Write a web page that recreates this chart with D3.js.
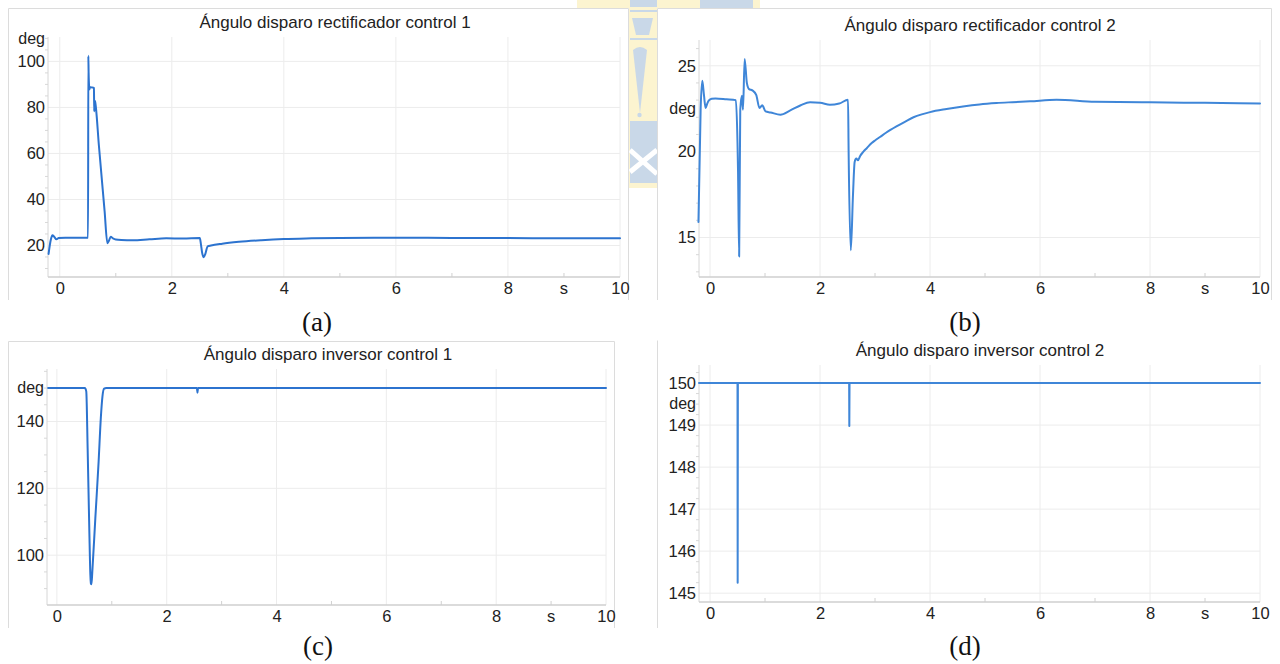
<!DOCTYPE html>
<html><head><meta charset="utf-8">
<script src="https://cdn.jsdelivr.net/npm/d3@7"></script>
<style>body{margin:0;background:#fff;} svg{display:block;}</style>
</head><body>
<svg id="c" width="1280" height="664"></svg>
<script>
// ---------- data ----------
const xTicks = [0, 2, 4, 6, 8, 10];
const xMinor = [1, 3, 5, 7, 9];
const titles = [
  "Ángulo disparo rectificador control 1",
  "Ángulo disparo rectificador control 2",
  "Ángulo disparo inversor control 1",
  "Ángulo disparo inversor control 2"
];
const captions = ["(a)", "(b)", "(c)", "(d)"];
const yTicksA = [20, 40, 60, 80, 100];
const yTicksB = [15, 20, 25];
const yTicksC = [100, 120, 140];
const yTicksD = [145, 146, 147, 148, 149, 150];

const tA = [-0.2,-0.16,-0.13,-0.1,-0.06,-0.02,0.1,0.3,0.505,0.51,0.515,0.53,0.54,0.56,0.6,0.61,0.615,0.62,0.63,0.7,0.8,0.85,0.88,0.91,0.95,1.0,1.1,1.3,1.6,1.9,2.2,2.5,2.52,2.54,2.57,2.6,2.64,2.7,2.9,3.2,3.6,4.0,4.5,5.0,6.0,7.0,8.0,9.0,10.0];
const vA = [16.3,22.5,24.4,23.8,22.7,23.2,23.4,23.4,23.4,102.4,95,87.8,88.9,88.7,88.6,88.4,78.3,83,82.5,63,35,21,22.2,23.8,23.1,22.6,22.4,22.3,22.7,23.1,23.0,23.2,20.5,17,14.9,16.5,19.6,20.0,20.8,21.6,22.3,22.8,23.1,23.3,23.4,23.3,23.2,23.1,23.1];

const tB = [-0.21,-0.17,-0.14,-0.11,-0.08,-0.05,-0.02,0.03,0.1,0.3,0.47,0.5,0.51,0.53,0.55,0.58,0.6,0.63,0.67,0.71,0.77,0.84,0.9,0.95,1.01,1.1,1.28,1.46,1.65,1.82,2.0,2.18,2.35,2.51,2.52,2.56,2.6,2.63,2.66,2.69,2.73,2.79,2.85,2.94,3.0,3.09,3.2,3.39,3.55,3.7,3.85,4.0,4.3,4.6,4.9,5.21,5.5,5.82,6.3,7.0,8.0,9.0,10.0];
const vB = [15.9,22.5,24.13,23.3,22.54,22.8,22.98,23.08,23.1,23.05,23.0,20.5,18.8,13.9,22.44,23.26,22.44,25.4,24.0,23.64,23.57,23.3,22.54,22.7,22.34,22.28,22.15,22.4,22.7,22.87,22.85,22.73,22.8,23.02,20.1,14.26,17.5,19.4,19.6,19.5,19.75,20.0,20.2,20.5,20.65,20.85,21.1,21.47,21.75,22.0,22.17,22.3,22.48,22.63,22.75,22.83,22.88,22.93,23.02,22.9,22.87,22.84,22.8];

const tC = [-0.16,0.51,0.535,0.56,0.59,0.61,0.62,0.63,0.645,0.7,0.76,0.8,0.83,0.86,0.9,2.55,2.56,2.57,10.0];
const vC = [150,150,149,132,108,94,91.5,91.3,95,111,128,141,147.5,149.8,150,150,148.6,150,150];

const tD = [-0.2,0.5,0.503,0.507,2.53,2.533,2.537,10.0];
const vD = [150,150,145.25,150,150,148.98,150,150];

// ---------- layout ----------
const svg = d3.select("#c");
const font = "'Liberation Sans', Arial, sans-serif";

// watermark (logo behind the top middle)
const wm = svg.append("g");
const yel = "#fcf4d0", blu = "#c9d8e8";
wm.append("rect").attr("x",577).attr("y",0).attr("width",183).attr("height",188).attr("fill",yel);
wm.append("rect").attr("x",700).attr("y",0).attr("width",53).attr("height",10).attr("fill",blu);
wm.append("rect").attr("x",630).attr("y",0).attr("width",27).attr("height",7).attr("fill",blu);
wm.append("rect").attr("x",630).attr("y",10).attr("width",27).attr("height",2).attr("fill",blu);
wm.append("path").attr("d","M632,18 L653,18 L649,35 L636,35 Z").attr("fill",blu);
wm.append("rect").attr("x",630).attr("y",38).attr("width",27).attr("height",2).attr("fill",blu);
wm.append("path").attr("d","M633,50 Q640,44 647,50 L640,113 Z").attr("fill",blu);
wm.append("circle").attr("cx",639.5).attr("cy",115).attr("r",2.2).attr("fill",blu);
wm.append("rect").attr("x",630).attr("y",121).attr("width",27).attr("height",62).attr("fill",blu);
wm.append("path").attr("d","M630,150 L657,174 M630,172 L657,150").attr("stroke","#fff").attr("stroke-width",5);

// panel boxes
const boxes = [
  {x0:8, x1:629, y0:8, y1:300, top:true, right:true},
  {x0:657, x1:1272, y0:8, y1:300, top:true, right:true},
  {x0:8, x1:615, y0:341, y1:628, top:true, right:true},
  {x0:657, x1:1280, y0:340, y1:628, top:false, right:false}
];
boxes.forEach(b => {
  svg.append("rect").attr("x",b.x0).attr("y",b.y0).attr("width",b.x1-b.x0).attr("height",b.y1-b.y0).attr("fill","#fff");
  let d = `M${b.x0+0.5},${b.y1} L${b.x0+0.5},${b.y0+0.5}`;
  if (b.top) d += ` L${b.x1-0.5},${b.y0+0.5}`;
  if (b.right) d += ` L${b.x1-0.5},${b.y1}`;
  svg.append("path").attr("d",d).attr("fill","none").attr("stroke","#dcdcdc").attr("stroke-width",1);
});

const panels = [
  {t:tA, v:vA, title:titles[0], yTicks:yTicksA, yMinorStep:5, xDom:[-0.21,10], yDom:[6.3,110.6], left:48, right:620, top:37, bottom:277, degVal:110, titleX:335, titleY:28, color:"#2c73cf", cap:captions[0], capX:317, capY:331, curve:d3.curveMonotoneX},
  {t:tB, v:vB, title:titles[1], yTicks:yTicksB, yMinorStep:1, xDom:[-0.2,10], yDom:[12.7,26.5], left:699, right:1260, top:40, bottom:277, degVal:22.5, titleX:980, titleY:31, color:"#3f86d8", cap:captions[1], capX:965, capY:331, curve:d3.curveMonotoneX},
  {t:tC, v:vC, title:titles[2], yTicks:yTicksC, yMinorStep:5, xDom:[-0.18,10], yDom:[85.1,155.7], left:47, right:606, top:369, bottom:605, degVal:150, titleX:328, titleY:360, color:"#2c73cf", cap:captions[2], capX:318, capY:655, curve:d3.curveMonotoneX},
  {t:tD, v:vD, title:titles[3], yTicks:yTicksD, yMinorStep:0.25, xDom:[-0.2,10], yDom:[144.79,150.43], left:699, right:1260, top:365, bottom:602, degVal:149.5, titleX:980, titleY:356, color:"#3f86d8", cap:captions[3], capX:965, capY:655, curve:d3.curveLinear}
];

panels.forEach(p => {
  const g = svg.append("g");
  const x = d3.scaleLinear().domain(p.xDom).range([p.left, p.right]);
  const y = d3.scaleLinear().domain(p.yDom).range([p.bottom, p.top]);

  // grid
  g.selectAll(".vg").data(xTicks).join("line")
    .attr("x1",d=>x(d)).attr("x2",d=>x(d)).attr("y1",p.top).attr("y2",p.bottom)
    .attr("stroke","#ececec").attr("stroke-width",1);
  g.selectAll(".hg").data(p.yTicks).join("line")
    .attr("x1",p.left).attr("x2",p.right).attr("y1",d=>y(d)).attr("y2",d=>y(d))
    .attr("stroke","#ececec").attr("stroke-width",1);

  // minor ticks
  const ym = d3.range(Math.ceil(p.yDom[0]/p.yMinorStep)*p.yMinorStep, p.yDom[1], p.yMinorStep)
    .filter(v => !p.yTicks.some(t => Math.abs(t-v) < 1e-6));
  g.selectAll(".ym").data(ym).join("line")
    .attr("x1",p.left-3).attr("x2",p.left).attr("y1",d=>y(d)).attr("y2",d=>y(d))
    .attr("stroke","#d8d8d8");
  g.selectAll(".xm").data(xMinor).join("line")
    .attr("x1",d=>x(d)).attr("x2",d=>x(d)).attr("y1",p.bottom-4).attr("y2",p.bottom)
    .attr("stroke","#d0d0d0");

  // axis lines
  g.append("line").attr("x1",p.left).attr("x2",p.left).attr("y1",p.top).attr("y2",p.bottom)
    .attr("stroke","#d6d6d6").attr("stroke-width",1);
  g.append("line").attr("x1",p.left).attr("x2",p.right).attr("y1",p.bottom).attr("y2",p.bottom)
    .attr("stroke","#cfcfcf").attr("stroke-width",1.5);

  // axes labels
  const xa = g.append("g").attr("transform",`translate(0,${p.bottom})`)
    .call(d3.axisBottom(x).tickValues(xTicks).tickSize(0).tickPadding(5).tickFormat(d3.format("d")));
  const ya = g.append("g").attr("transform",`translate(${p.left},0)`)
    .call(d3.axisLeft(y).tickValues(p.yTicks).tickSize(0).tickPadding(3).tickFormat(d3.format("d")));
  [xa, ya].forEach(a => {
    a.select(".domain").remove();
    a.selectAll("text").attr("font-family",font).attr("font-size",16.5).attr("fill","#222");
  });

  g.append("text").attr("x",x(9)).attr("y",p.bottom+5).attr("dy","0.71em")
    .attr("text-anchor","middle").attr("font-family",font).attr("font-size",16.5).attr("fill","#222").text("s");
  g.append("text").attr("x",p.left-3).attr("y",y(p.degVal)).attr("dy","0.32em")
    .attr("text-anchor","end").attr("font-family",font).attr("font-size",16).attr("fill","#222").text("deg");

  // title
  g.append("text").attr("x",p.titleX).attr("y",p.titleY).attr("text-anchor","middle")
    .attr("font-family",font).attr("font-size",17).attr("fill","#222").text(p.title);

  // line
  const data = p.t.map((t,i) => [t, p.v[i]]);
  g.append("path").datum(data)
    .attr("d", d3.line().curve(p.curve).x(d=>x(d[0])).y(d=>y(d[1])))
    .attr("fill","none").attr("stroke",p.color).attr("stroke-width",2)
    .attr("stroke-linejoin","round").attr("stroke-linecap","round");

  // caption
  svg.append("text").attr("x",p.capX).attr("y",p.capY).attr("text-anchor","middle")
    .attr("font-family","'Liberation Serif','Times New Roman',serif").attr("font-size",27)
    .attr("fill","#111").text(p.cap);
});
</script>
</body></html>
